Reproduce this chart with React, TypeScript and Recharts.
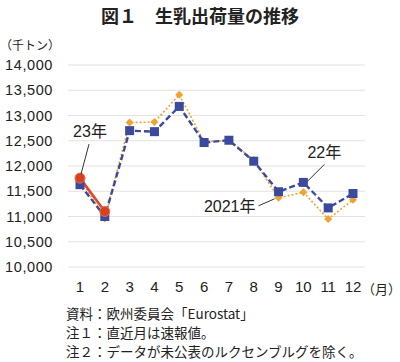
import { CartesianGrid, LabelList, Line, LineChart, XAxis, YAxis } from "recharts";

const months = ["1", "2", "3", "4", "5", "6", "7", "8", "9", "10", "11", "12"];
const y2021 = [11750, 10960, 12860, 12870, 13410, 12480, 12510, 12120, 11370, 11480, 10950, 11330];
const y2022 = [11630, 11000, 12700, 12680, 13180, 12465, 12510, 12095, 11490, 11675, 11170, 11455];
const y2023: (number | null)[] = [11760, 11100, null, null, null, null, null, null, null, null, null, null];
const yTicks = [10000, 10500, 11000, 11500, 12000, 12500, 13000, 13500, 14000];

const data = months.map((m, i) => ({
  month: m,
  y2021: y2021[i],
  y2022: y2022[i],
  y2023: y2023[i],
}));

const JP = "'Noto Sans CJK JP', sans-serif";
const NUM = "'Liberation Sans', 'Noto Sans CJK JP', sans-serif";

const ORANGE = "#F2A230";
const BLUE = "#3C4A9E";
const RED = "#E0472A";

const Diamond = ({ cx, cy }: { cx?: number; cy?: number }) => {
  if (cx == null || cy == null) return null;
  const r = 4;
  return (
    <path
      d={`M${cx},${cy - r}L${cx + r},${cy}L${cx},${cy + r}L${cx - r},${cy}Z`}
      fill={ORANGE}
    />
  );
};

const Square = ({ cx, cy }: { cx?: number; cy?: number }) => {
  if (cx == null || cy == null) return null;
  return <rect x={cx - 4.5} y={cy - 4.5} width={9} height={9} fill={BLUE} />;
};

// leader-line callout attached to one point of a series
const callout =
  (idx: number, text: string, lx1: number, ly1: number, lx2: number, ly2: number, tx: number, ty: number, anchor: string) =>
  (props: any) => {
    const { x, y, index } = props;
    if (index !== idx || x == null || y == null) return null;
    return (
      <g>
        <line x1={x + lx1} y1={y + ly1} x2={x + lx2} y2={y + ly2} stroke="#333" strokeWidth={1} />
        <text
          x={x + tx}
          y={y + ty}
          textAnchor={anchor as any}
          dominantBaseline="central"
          fontSize={16}
          fontFamily={NUM}
          fill="#222"
        >
          {text}
        </text>
      </g>
    );
  };

export default function App() {
  return (
    <div
      style={{
        position: "absolute",
        left: 0,
        top: 0,
        width: 400,
        height: 362,
        background: "#fff",
        fontFamily: JP,
        color: "#222",
      }}
    >
      <div
        style={{
          position: "absolute",
          left: 0,
          width: 400,
          top: 2,
          textAlign: "center",
          fontSize: 18,
          fontWeight: "bold",
          whiteSpace: "pre",
        }}
      >
        図１　生乳出荷量の推移
      </div>
      <div style={{ position: "absolute", left: 0, top: 36, fontSize: 12 }}>（千トン）</div>

      <div style={{ position: "absolute", left: 0, top: 0 }}>
        <LineChart width={400} height={362} data={data} margin={{ top: 65, right: 35, bottom: 0, left: 0 }}>
          <CartesianGrid vertical={false} stroke="#e2e2e2" strokeWidth={1} />
          <XAxis
            dataKey="month"
            height={95}
            axisLine={false}
            tickLine={false}
            tickSize={0}
            tickMargin={14}
            padding={{ left: 12, right: 12 }}
            tick={{ fontSize: 15, fontFamily: NUM, fill: "#222" }}
            interval={0}
          />
          <YAxis
            width={68}
            domain={[10000, 14000]}
            ticks={yTicks}
            axisLine={false}
            tickLine={false}
            tickSize={0}
            tickMargin={15}
            tickFormatter={(v: number) => v.toLocaleString("en-US")}
            tick={{ fontSize: 14.5, fontFamily: NUM, fill: "#222", letterSpacing: 0.6 }}
          />
          <Line
            dataKey="y2021"
            stroke={ORANGE}
            strokeWidth={1.6}
            strokeDasharray="2 2"
            dot={<Diamond />}
            isAnimationActive={false}
          >
            <LabelList dataKey="y2021" content={callout(8, "2021年", -4, 1, -20, 8, -23, 9, "end")} />
          </Line>
          <Line
            dataKey="y2022"
            stroke={BLUE}
            strokeWidth={2.4}
            strokeDasharray="6 3"
            dot={<Square />}
            isAnimationActive={false}
          >
            <LabelList dataKey="y2022" content={callout(9, "22年", 4, -1, 21, -18, 21, -30, "middle")} />
          </Line>
          <Line
            dataKey="y2023"
            stroke={RED}
            strokeWidth={2.6}
            dot={{ r: 5, fill: "#D9401F", stroke: "#E8704F", strokeWidth: 1 }}
            isAnimationActive={false}
          >
            <LabelList dataKey="y2023" content={callout(0, "23年", 1, -4, 9, -34, 10, -47, "middle")} />
          </Line>
        </LineChart>
      </div>

      <div style={{ position: "absolute", left: 362, top: 279, fontSize: 13 }}>（月）</div>

      <div style={{ position: "absolute", left: 66, top: 304, fontSize: 13.5, lineHeight: "19px" }}>
        <div>資料：欧州委員会「Eurostat」</div>
        <div>注１：直近月は速報値。</div>
        <div>注２：データが未公表のルクセンブルグを除く。</div>
      </div>
    </div>
  );
}
